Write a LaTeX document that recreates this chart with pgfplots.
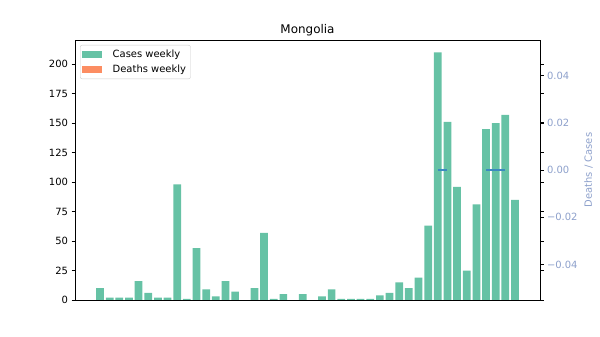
\documentclass[border=0pt]{standalone}
\usepackage{fontspec}
\setmainfont{DejaVu Sans}
\usepackage{pgfplots}
\pgfplotsset{compat=1.18}
\definecolor{cgreen}{HTML}{66C2A5}
\definecolor{corange}{HTML}{FC8D62}
\definecolor{cpurp}{HTML}{8DA0CB}
\definecolor{cline}{HTML}{3A8BC0}
\definecolor{cframe}{HTML}{CCCCCC}
\begin{document}
\begin{tikzpicture}[x=1bp,y=1bp]
\useasboundingbox (-75bp,-37bp) rectangle (525bp,300bp);
\begin{axis}[
  scale only axis, width=465bp, height=260bp,
  at={(0,0)}, anchor=south west,
  xmin=-2.59, xmax=45.59, ymin=0, ymax=220.5,
  xtick=\empty,
  ytick={0,25,...,200},
  tick align=outside, major tick length=3.5bp,
  tick style={black, line width=0.8bp},
  axis line style={black, line width=0.8bp},
  tick label style={font=\fontsize{10}{12}\selectfont},
  /pgf/number format/assume math mode=true,
  title={Mongolia},
  title style={font=\fontsize{12}{14}\selectfont, at={(0.5,1)}, anchor=south, inner sep=0pt, yshift=-1.7bp},
  legend cell align=left,
  legend style={at={(0,1)}, anchor=north west, xshift=5bp, yshift=-5bp,
    draw=cframe, rounded corners=2bp, fill=white, fill opacity=0.8, text opacity=1,
    font=\fontsize{10}{12}\selectfont, inner xsep=2bp, inner ysep=3.5bp,
    row sep=2.5bp, column sep=8bp, nodes={inner xsep=2.5bp, inner ysep=1.5bp}},
]
\addplot[ybar, bar width=0.8, bar shift=0pt, fill=cgreen, draw=none, forget plot] coordinates {
(0,10)(1,2)(2,2)(3,2)(4,16)(5,6)(6,2)(7,2)(8,98)(9,1)
(10,44)(11,9)(12,3)(13,16)(14,7)(15,0)(16,10)(17,57)(18,1)(19,5)
(20,0)(21,5)(22,0)(23,3)(24,9)(25,1)(26,1)(27,1)(28,1)(29,4)
(30,6)(31,15)(32,10)(33,19)(34,63)(35,210)(36,151)(37,96)(38,25)(39,81)
(40,145)(41,150)(42,157)(43,85)};
\addplot[ybar, bar width=0.8, bar shift=0pt, fill=corange, draw=none, forget plot] coordinates {
(0,0)(1,0)(2,0)(3,0)(4,0)(5,0)(6,0)(7,0)(8,0)(9,0)
(10,0)(11,0)(12,0)(13,0)(14,0)(15,0)(16,0)(17,0)(18,0)(19,0)
(20,0)(21,0)(22,0)(23,0)(24,0)(25,0)(26,0)(27,0)(28,0)(29,0)
(30,0)(31,0)(32,0)(33,0)(34,0)(35,0)(36,0)(37,0)(38,0)(39,0)
(40,0)(41,0)(42,0)(43,0)};
\addlegendimage{legend image code/.code={\path[fill=cgreen, draw=none, fill opacity=1, sharp corners] (0bp,-3.5bp) rectangle (20bp,3.5bp);}}
\addlegendentry{Cases weekly}
\addlegendimage{legend image code/.code={\path[fill=corange, draw=none, fill opacity=1, sharp corners] (0bp,-3.5bp) rectangle (20bp,3.5bp);}}
\addlegendentry{Deaths weekly}
\end{axis}
\begin{axis}[
  scale only axis, width=465bp, height=260bp,
  at={(0,0)}, anchor=south west,
  xmin=-2.59, xmax=45.59, ymin=-0.055, ymax=0.055,
  axis x line=none, axis y line*=right,
  xtick=\empty,
  scaled y ticks=false,
  ytick={-0.04,-0.02,0,0.02,0.04},
  yticklabels={−0.04,−0.02,0.00,0.02,0.04},
  tick align=outside, major tick length=3.5bp,
  tick style={black, line width=0.8bp},
  axis line style={black, line width=0.8bp},
  tick label style={font=\fontsize{10}{12}\selectfont, text=cpurp},
  ylabel={Deaths / Cases},
  ylabel style={font=\fontsize{10}{12}\selectfont, text=cpurp},
]
\addplot[cline, line width=1.8bp] coordinates {(35,0)(36,0)};
\addplot[cline, line width=1.8bp] coordinates {(40,0)(41,0)(42,0)};
\end{axis}
\end{tikzpicture}
\end{document}
